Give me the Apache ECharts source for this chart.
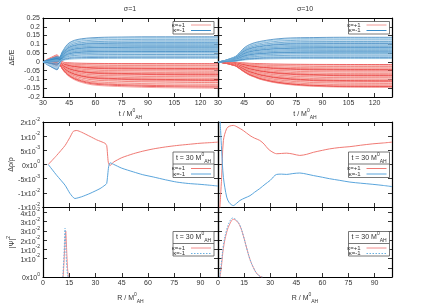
<!DOCTYPE html>
<html><head><meta charset="utf-8">
<script src="https://cdn.jsdelivr.net/npm/echarts@6/dist/echarts.min.js"></script>
<style>html,body{margin:0;padding:0;background:#fff}#c{width:436px;height:305px}</style>
</head><body><div id="c"></div>
<script>
// ---------- tick labels ----------
const topTicksY = [-0.2,-0.15,-0.1,-0.05,0,0.05,0.1,0.15,0.2,0.25];
const topLabelsY = ['-0.2','-0.15','-0.1','-0.05','0','0.05','0.1','0.15','0.2','0.25'];
const midTicksY = [-0.015,-0.01,-0.005,0,0.005,0.01,0.015];
const midLabelsY = [['-1','-2'],['-1','-2'],['-5','-3'],['0','0'],['5','-3'],['1','-2'],['2','-2']];
const botTicksY = [0,0.005,0.01,0.015,0.02,0.025,0.03,0.035];
const botLabelsY = [['0','0'],['5','-3'],['1','-2'],['1','-2'],['2','-2'],['3','-2'],['3','-2'],['4','-2']];
const tTicks = [30,45,60,75,90,105,120];
const rTicks = [0,15,30,45,60,75,90];

// ---------- top-left (sigma=1) fan ----------
const leftTimes = [30,32,34,36,38,39.5,41,43,45,48,52,58,65,75,90,110,130];
const leftEarlyP = [0,0.3,0.55,0.8,1,0.55,0.1,0,0,0,0,0,0,0,0,0,0];
const leftBlueP  = [0,0,0,0,0,0.1,0.4,0.62,0.76,0.86,0.92,0.96,0.98,0.99,1,1,1];
const leftRedP   = [0,0,0,0,0,0.08,0.28,0.44,0.56,0.68,0.78,0.87,0.91,0.94,0.97,0.99,1];
const leftBlueAmp = [0.143,0.138,0.133,0.128,0.123,0.119,0.115,0.111,0.107,0.104,0.101,0.098,0.095,0.092,0.089,0.086,0.083,0.08,0.077,0.074,0.071,0.068,0.065,0.062,0.059,0.056,0.053,0.05,0.046,0.042,0.037,0.032,0.026,0.02];
const leftRedAmp = [-0.01,-0.014,-0.018,-0.022,-0.026,-0.03,-0.034,-0.038,-0.042,-0.046,-0.05,-0.054,-0.058,-0.062,-0.066,-0.07,-0.074,-0.078,-0.082,-0.086,-0.09,-0.094,-0.098,-0.102,-0.106,-0.11,-0.114,-0.118,-0.123,-0.128,-0.133,-0.138,-0.144,-0.15];
const leftBlueEarly = [-0.045,0.03,-0.035,0.02,-0.04,0.025,-0.03,0.015,-0.025,0.01,-0.02,0.028,-0.038,0.005,-0.015,0.022,-0.042,0.012,-0.028,0.018,-0.01,0.0,-0.032,0.026,-0.02,0.008,-0.036,0.014,-0.024,0.02,-0.006,0.004,-0.012,0.01];
const leftRedEarly = [0.04,-0.03,0.035,-0.02,0.03,-0.025,0.038,-0.015,0.025,-0.01,0.02,-0.028,0.032,0.005,0.015,-0.022,0.028,0.01,-0.018,0.022,0.0,0.012,-0.026,0.034,-0.012,0.018,0.036,-0.006,0.024,-0.016,0.008,0.03,-0.004,0.014];

// ---------- top-right (sigma=10) fan ----------
const rightTimes = [30,33,36,38,40,42,44,46,48,51,54,58,62,68,75,85,100,130];
const rightBlueP = [0,0.04,0.11,0.16,0.22,0.34,0.5,0.62,0.7,0.78,0.83,0.88,0.92,0.96,0.98,0.99,1,1];
const rightRedP  = [0,0.04,0.08,0.12,0.16,0.25,0.35,0.44,0.52,0.6,0.68,0.75,0.81,0.87,0.92,0.96,0.99,1];
const rightBlueAmp = [0.14,0.135,0.13,0.125,0.12,0.116,0.112,0.108,0.104,0.1,0.097,0.094,0.091,0.088,0.085,0.082,0.079,0.076,0.073,0.07,0.067,0.064,0.061,0.058,0.055,0.052,0.049,0.046,0.042,0.038,0.034,0.029,0.024,0.019];
const rightRedAmp = [-0.015,-0.019,-0.023,-0.027,-0.031,-0.035,-0.039,-0.043,-0.047,-0.051,-0.055,-0.059,-0.063,-0.067,-0.071,-0.075,-0.079,-0.083,-0.087,-0.091,-0.095,-0.099,-0.103,-0.107,-0.111,-0.115,-0.119,-0.123,-0.127,-0.131,-0.135,-0.139,-0.142,-0.145];

// ---------- middle panels (delta rho / rho) ----------
const midLeftRedR = [3,7.8,12.6,15.4,17.3,19.3,22,26.9,30.7,35.4,36.4,37.3,38.3,40.2,45,51.6,57,63,70,76.4,83,89.7,95,100];
const midLeftRed  = [0,0.0032,0.0067,0.0096,0.0117,0.012,0.0114,0.0099,0.0087,0.0075,0.0067,0.0008,-0.0004,0.0008,0.0024,0.0038,0.0047,0.0055,0.0062,0.0067,0.0071,0.0075,0.0077,0.0079];
const midLeftBlueR = [3,7.8,12.6,15.4,18.2,22,26.9,32.6,35.4,36.4,37.5,38.3,40.2,45,51.6,57,63,70,76.4,83,89.7,95,100];
const midLeftBlue  = [0,-0.0038,-0.0073,-0.0102,-0.012,-0.0114,-0.0102,-0.0085,-0.0073,-0.0067,-0.0008,0.0006,0.0001,-0.0013,-0.0026,-0.0036,-0.0044,-0.0054,-0.0062,-0.0067,-0.007,-0.0073,-0.0076];
const midRightRedR = [1.0,2.1,3.1,5,6.5,8.8,11.5,14.5,18.4,21,24,26.5,28.8,31,33.7,36.5,39.5,43,47,51,54.8,60,64,70,75.8,82,89,95,100];
const midRightRed  = [-0.016,-0.0045,0.0085,0.0127,0.0135,0.0138,0.0131,0.012,0.0102,0.0093,0.0085,0.0072,0.0055,0.0045,0.0038,0.0039,0.004,0.0037,0.0032,0.0036,0.0043,0.005,0.0055,0.006,0.0063,0.0068,0.0073,0.0076,0.0079];
const midRightBlueR = [1.0,1.5,2.1,3.1,5,6.5,8.8,10.5,12.6,15.5,18.4,21,24,27,30,33.7,36.5,39.5,43,47,51,54.8,60,64,70,75.8,82,89,95,100];
const midRightBlue  = [0.017,0.012,0.005,-0.0045,-0.0115,-0.0135,-0.0145,-0.0138,-0.0127,-0.0118,-0.011,-0.0098,-0.0085,-0.007,-0.0056,-0.0035,-0.0034,-0.0035,-0.0032,-0.003,-0.0034,-0.0039,-0.0045,-0.005,-0.0056,-0.0062,-0.0066,-0.007,-0.0074,-0.0078];

// ---------- bottom panels (|psi|^2) ----------
const botLeftRedR = [11.5,12,12.5,13,13.5,14,14.5];
const botLeftRed  = [0,0.008,0.018,0.025,0.015,0.005,0];
const botLeftBlueR = [11.3,12,12.6,13.2,13.8,14.3];
const botLeftBlue  = [0,0.012,0.0265,0.012,0.003,0];
const botRightRedR = [1.2,2.1,3.1,5,6.9,8.8,10.7,12.6,14.5,16.5,18.4,20.3,22.2,24.1,25.5];
const botRightRed  = [0,0.0069,0.0156,0.0243,0.029,0.0313,0.0304,0.0278,0.0226,0.0156,0.0095,0.0052,0.002,0.0004,0];
const botRightBlueR = [1.0,2.1,3.1,5,6.9,8.4,10.5,12.6,14.5,16.5,18.4,20.3,22.2,24.1,25.5];
const botRightBlue  = [0,0.009,0.0174,0.0257,0.0305,0.032,0.031,0.028,0.0226,0.0156,0.0095,0.0052,0.002,0.0004,0];

// ---------- styling ----------
const FONT = 'Liberation Sans';
const blueShades = ['#2171b5','#6baed6','#a9cfea','#4292c6','#c6dbef','#3182bd','#9ecae1','#5a9fd4'];
const redShades  = ['#e41a1c','#f4827d','#f9b4b0','#ea4a42','#fbcfcc','#ee625a','#f7a09b','#e8352d'];
const lineRed = '#f07a74', lineBlue = '#5aa5dc';

const grids = [
  {left:43, top:18, width:175, height:79},
  {left:218, top:18, width:174, height:79},
  {left:43, top:122, width:175, height:85},
  {left:218, top:122, width:174, height:85},
  {left:43, top:207, width:175, height:73},
  {left:218, top:207, width:174, height:73}
];
const supRich = {
  m:{fontSize:7, fontFamily:FONT, color:'#333', lineHeight:10, verticalAlign:'bottom'},
  s:{fontSize:5, fontFamily:FONT, color:'#333', lineHeight:10, verticalAlign:'top'}
};
const nameRich = {
  n:{fontSize:7, fontFamily:FONT, color:'#333', lineHeight:12, verticalAlign:'middle'},
  p:{fontSize:5, fontFamily:FONT, color:'#333', lineHeight:12, verticalAlign:'top'},
  b:{fontSize:5, fontFamily:FONT, color:'#333', lineHeight:12, verticalAlign:'bottom'}
};
function findIdx(arr, v){ for(let i=0;i<arr.length;i++){ if(Math.abs(arr[i]-v)<1e-9) return i; } return -1; }
const tickCommon = {show:true, inside:true, length:4, lineStyle:{color:'#000', width:0.8}};
const lineCommon = {show:true, onZero:false, lineStyle:{color:'#000', width:1.2}};

const xAxes = [], yAxes = [];
function addX(gi, min, max, ticks, showLabels, name, nameGap){
  xAxes.push({type:'value', gridIndex:gi, position:'bottom', min, max, interval:15,
    axisLine:lineCommon, axisTick:tickCommon, splitLine:{show:false},
    axisLabel:{show:showLabels, margin:3, fontSize:7, fontFamily:FONT, color:'#333', showMinLabel:true, showMaxLabel:true,
      formatter:v => findIdx(ticks, v) >= 0 ? String(v) : ''},
    name:name, nameLocation:'middle', nameGap:nameGap, nameTextStyle:{rich:nameRich}});
  xAxes.push({type:'value', gridIndex:gi, position:'top', min, max, interval:15,
    axisLine:lineCommon, axisTick:tickCommon, splitLine:{show:false}, axisLabel:{show:false}});
}
function addY(gi, min, max, interval, fmt, showLabels, name){
  yAxes.push({type:'value', gridIndex:gi, position:'left', min, max, interval,
    axisLine:lineCommon, axisTick:tickCommon, splitLine:{show:false},
    axisLabel:{show:showLabels, margin:3, fontSize:7, fontFamily:FONT, color:'#333', showMinLabel:true, showMaxLabel:true, formatter:fmt, rich:supRich},
    name:name, nameLocation:'middle', nameGap:25, nameRotate:90, nameTextStyle:{rich:nameRich}});
  yAxes.push({type:'value', gridIndex:gi, position:'right', min, max, interval,
    axisLine:lineCommon, axisTick:tickCommon, splitLine:{show:false}, axisLabel:{show:false}});
}
const fmtTop = v => { const i = findIdx(topTicksY, v); return i>=0 ? topLabelsY[i] : ''; };
const fmtMid = v => { const i = findIdx(midTicksY, v); return i>=0 ? '{m|'+midLabelsY[i][0]+'x10}{s|'+midLabelsY[i][1]+'}' : ''; };
const fmtBot = v => { const i = findIdx(botTicksY, v); return i>=0 ? '{m|'+botLabelsY[i][0]+'x10}{s|'+botLabelsY[i][1]+'}' : ''; };
const tName = '{n|t / M}{p|0}{b|AH}';
const rName = '{n|R / M}{p|0}{b|AH}';

addX(0, 30, 130, tTicks, true, tName, 9);
addX(1, 30, 130, tTicks, true, tName, 9);
addX(2, 0, 100, rTicks, false, '', 0);
addX(3, 0, 100, rTicks, false, '', 0);
addX(4, 0, 100, rTicks, true, rName, 15);
addX(5, 0, 100, rTicks, true, rName, 15);
addY(0, -0.2, 0.25, 0.05, fmtTop, true, '{n|ΔE/E}');
addY(1, -0.2, 0.25, 0.05, fmtTop, false, '');
addY(2, -0.015, 0.015, 0.005, fmtMid, true, '{n|Δρ/ρ}');
addY(3, -0.015, 0.015, 0.005, fmtMid, false, '');
addY(4, 0, 0.038, 0.005, fmtBot, true, '{n||Ψ|}{p|2}');
addY(5, 0, 0.038, 0.005, fmtBot, false, '');

const series = [];
function fan(times, mainP, earlyP, amps, earlies, shades, gi){
  amps.forEach((a, k) => {
    series.push({type:'line', xAxisIndex:2*gi, yAxisIndex:2*gi, showSymbol:false, smooth:0.3, silent:true, clip:true,
      lineStyle:{width:0.7, color:shades[k % shades.length]},
      data: times.map((t, j) => [t, a*mainP[j] + (earlies ? earlies[k]*earlyP[j] : 0)])});
  });
}
fan(leftTimes, leftRedP, leftEarlyP, leftRedAmp, leftRedEarly, redShades, 0);
fan(leftTimes, leftBlueP, leftEarlyP, leftBlueAmp, leftBlueEarly, blueShades, 0);
fan(rightTimes, rightRedP, null, rightRedAmp, null, redShades, 1);
fan(rightTimes, rightBlueP, null, rightBlueAmp, null, blueShades, 1);

function curve(xs, ys, gi, color, dash, smooth){
  series.push({type:'line', xAxisIndex:2*gi, yAxisIndex:2*gi, showSymbol:false, smooth:smooth, silent:true, clip:true,
    lineStyle:{width:1, color, type:dash || 'solid'}, data: xs.map((x, i) => [x, ys[i]])});
}
curve(midLeftRedR, midLeftRed, 2, lineRed, null, 0.2);
curve(midLeftBlueR, midLeftBlue, 2, lineBlue, null, 0.2);
curve(midRightRedR, midRightRed, 3, lineRed, null, 0.3);
curve(midRightBlueR, midRightBlue, 3, lineBlue, null, 0.3);
curve(botLeftRedR, botLeftRed, 4, '#f28c8c', null, 0.2);
curve(botLeftBlueR, botLeftBlue, 4, '#6ab0e0', [1.5,1.5], 0.2);
curve(botRightRedR, botRightRed, 5, '#f28c8c', null, 0.4);
curve(botRightBlueR, botRightBlue, 5, '#6ab0e0', [1.5,1.5], 0.4);

// ---------- keys / titles (graphic) ----------
const graphic = [];
function txt(x, y, text, size, align, rich){
  graphic.push({type:'text', z:100, style:{x, y, text, font:size+'px '+FONT, fill:'#333', align:align||'center', verticalAlign:'middle', rich:rich}});
}
function seg(x1, y1, x2, y2, color, dash, w){
  graphic.push({type:'line', z:100, shape:{x1,y1,x2,y2}, style:{stroke:color, lineWidth:w||1, lineDash:dash||null}});
}
function box(x, y, w, h){
  graphic.push({type:'rect', z:99, shape:{x, y, width:w, height:h}, style:{fill:'#fff', stroke:'#555', lineWidth:0.8}});
}
function simpleKey(x, y){
  box(x, y, 41, 12.5);
  txt(x+12, y+3.5, 'κ=+1', 6, 'right');
  txt(x+12, y+9, 'κ=-1', 6, 'right');
  seg(x+18, y+3.5, x+38, y+3.5, '#f19a96');
  seg(x+18, y+9, x+38, y+9, '#3a8cc8');
}
function titledKey(x, y, h, dash){
  box(x, y, 41, h);
  seg(x, y+12, x+41, y+12, '#555', null, 0.8);
  txt(x+20.5, y+6, '{n|t = 30 M}{p|0}{b|AH}', 7, 'center', nameRich);
  txt(x+12, y+16.5, 'κ=+1', 6, 'right');
  txt(x+12, y+22, 'κ=-1', 6, 'right');
  seg(x+18, y+16.5, x+38, y+16.5, dash ? '#f28c8c' : lineRed);
  seg(x+18, y+22, x+38, y+22, dash ? '#6ab0e0' : lineBlue, dash);
}
simpleKey(173, 21.5);
simpleKey(348.5, 21.5);
titledKey(173, 152, 25.5, null);
titledKey(348.5, 152, 25.5, null);
titledKey(173, 231.5, 24.5, [1.5,1.5]);
titledKey(348.5, 231.5, 24.5, [1.5,1.5]);
txt(130, 9, 'σ=1', 7);
txt(305, 9, 'σ=10', 7);

const chart = echarts.init(document.getElementById('c'));
chart.setOption({animation:false, backgroundColor:'#fff', grid:grids, xAxis:xAxes, yAxis:yAxes, series, graphic});
</script></body></html>
